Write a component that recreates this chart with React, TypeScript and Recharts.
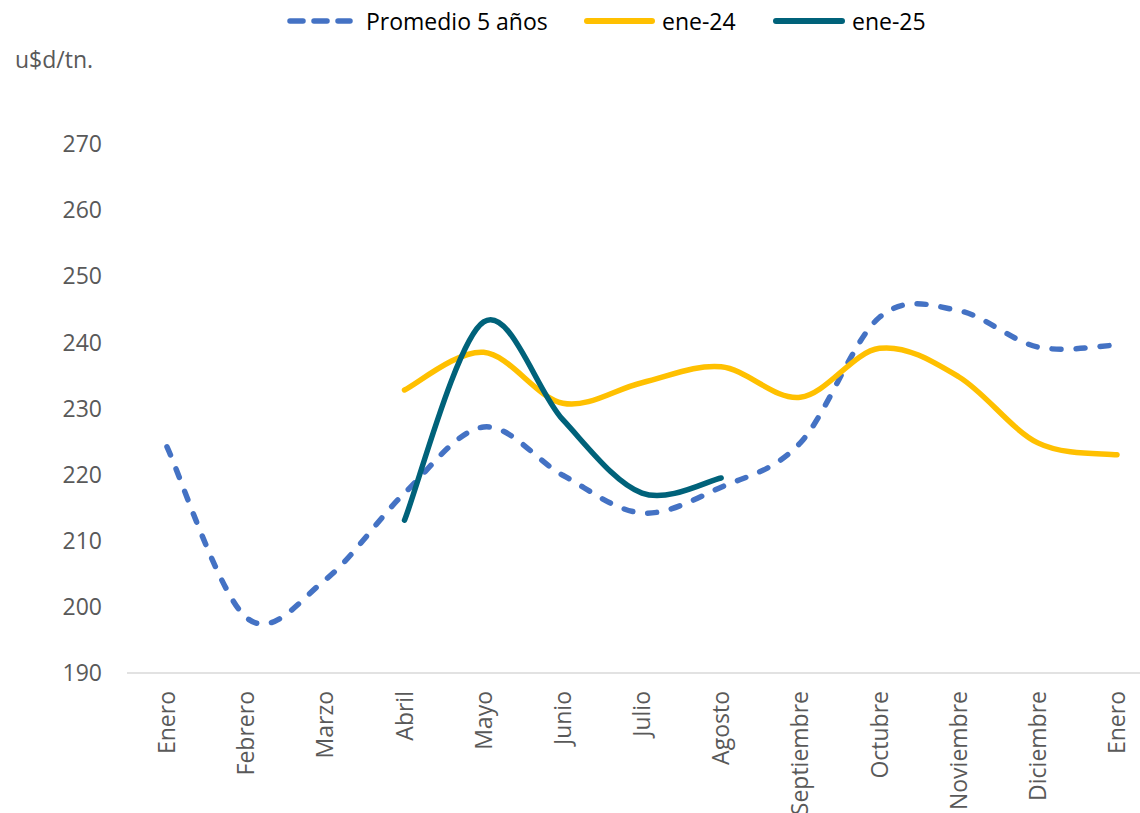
import { LineChart, Line, XAxis, YAxis } from "recharts";

const months = [
  "Enero", "Febrero", "Marzo", "Abril", "Mayo", "Junio", "Julio",
  "Agosto", "Septiembre", "Octubre", "Noviembre", "Diciembre", "Enero",
];

const promedio5 = [224.2, 198.4, 204.1, 217.2, 227.2, 219.9, 214.2, 218.1, 224.8, 243.8, 244.8, 239.3, 239.6];
const ene24 = [null, null, null, 232.8, 238.5, 230.8, 233.9, 236.3, 231.7, 239.1, 234.8, 224.8, 223.0];
const ene25 = [null, null, null, 213.1, 243.1, 228.3, 217.2, 219.5, null, null, null, null, null];

const yTicks = [190, 200, 210, 220, 230, 240, 250, 260, 270];

const BLUE = "#4472C4";
const YELLOW = "#FFC000";
const TEAL = "#00627A";
const GREY = "#595959";
const FONT = "'Open Sans', sans-serif";

const data = months.map((m, i) => ({
  month: m,
  promedio: promedio5[i],
  ene24: ene24[i],
  ene25: ene25[i],
}));

// office-style smoothing (catmull-rom through every point)
function smoothCurve(context: any) {
  let pts: number[][] = [];
  return {
    areaStart() {},
    areaEnd() {},
    lineStart() {
      pts = [];
    },
    point(x: number, y: number) {
      pts.push([+x, +y]);
    },
    lineEnd() {
      const n = pts.length;
      if (!n) return;
      context.moveTo(pts[0][0], pts[0][1]);
      for (let i = 0; i < n - 1; i++) {
        const p0 = pts[i - 1] || pts[i];
        const p1 = pts[i];
        const p2 = pts[i + 1];
        const p3 = pts[i + 2] || pts[i + 1];
        context.bezierCurveTo(
          p1[0] + (p2[0] - p0[0]) / 6,
          p1[1] + (p2[1] - p0[1]) / 6,
          p2[0] - (p3[0] - p1[0]) / 6,
          p2[1] - (p3[1] - p1[1]) / 6,
          p2[0],
          p2[1]
        );
      }
    },
  };
}

function MonthTick(props: any) {
  const { x, y, payload } = props;
  const ty = y + 18;
  return (
    <text
      x={x}
      y={ty}
      dy="0.35em"
      textAnchor="end"
      transform={`rotate(-90, ${x}, ${ty})`}
      fill={GREY}
      fontSize={23}
      fontFamily={FONT}
    >
      {payload.value}
    </text>
  );
}

function LegendItem({ left, color, dashed, width, label }: any) {
  return (
    <div style={{ position: "absolute", left, top: 4, display: "flex", alignItems: "center", height: 34 }}>
      <svg width={width} height={12} style={{ display: "block" }}>
        <line
          x1={3}
          y1={6}
          x2={width - 3}
          y2={6}
          stroke={color}
          strokeWidth={dashed ? 5.5 : 6}
          strokeLinecap="round"
          strokeDasharray={dashed ? "13 11" : undefined}
        />
      </svg>
      <span style={{ marginLeft: dashed ? 13 : 7, fontSize: 23, color: "#000", whiteSpace: "nowrap" }}>{label}</span>
    </div>
  );
}

export default function App() {
  return (
    <div style={{ position: "absolute", left: 0, top: 0, width: 1140, height: 813, overflow: "hidden", background: "#fff", fontFamily: FONT }}>
      <LegendItem left={287} color={BLUE} dashed width={66} label="Promedio 5 años" />
      <LegendItem left={584} color={YELLOW} width={71} label="ene-24" />
      <LegendItem left={773} color={TEAL} width={72} label="ene-25" />
      <div style={{ position: "absolute", left: 15, top: 43, fontSize: 23, color: GREY, lineHeight: "normal" }}>u$d/tn.</div>

      <LineChart width={1140} height={813} data={data} margin={{ top: 144, right: 0, bottom: 0, left: 0 }}>
        <XAxis
          dataKey="month"
          interval={0}
          height={140}
          padding={{ left: 40, right: 23 }}
          tickLine={false}
          tickSize={0}
          tickMargin={0}
          axisLine={{ stroke: "#D9D9D9", strokeWidth: 1.5 }}
          tick={<MonthTick />}
        />
        <YAxis
          domain={[190, 270]}
          ticks={yTicks}
          width={127}
          axisLine={false}
          tickLine={false}
          tickSize={0}
          tickMargin={25}
          tick={{ fill: GREY, fontSize: 23, fontFamily: FONT }}
        />
        <Line
          dataKey="promedio"
          type={smoothCurve as any}
          stroke={BLUE}
          strokeWidth={5.5}
          strokeDasharray="9 15"
          strokeLinecap="round"
          dot={false}
          activeDot={false}
          isAnimationActive={false}
        />
        <Line
          dataKey="ene24"
          type={smoothCurve as any}
          stroke={YELLOW}
          strokeWidth={5.5}
          strokeLinecap="round"
          dot={false}
          activeDot={false}
          isAnimationActive={false}
        />
        <Line
          dataKey="ene25"
          type={smoothCurve as any}
          stroke={TEAL}
          strokeWidth={5.5}
          strokeLinecap="round"
          dot={false}
          activeDot={false}
          isAnimationActive={false}
        />
      </LineChart>
    </div>
  );
}
